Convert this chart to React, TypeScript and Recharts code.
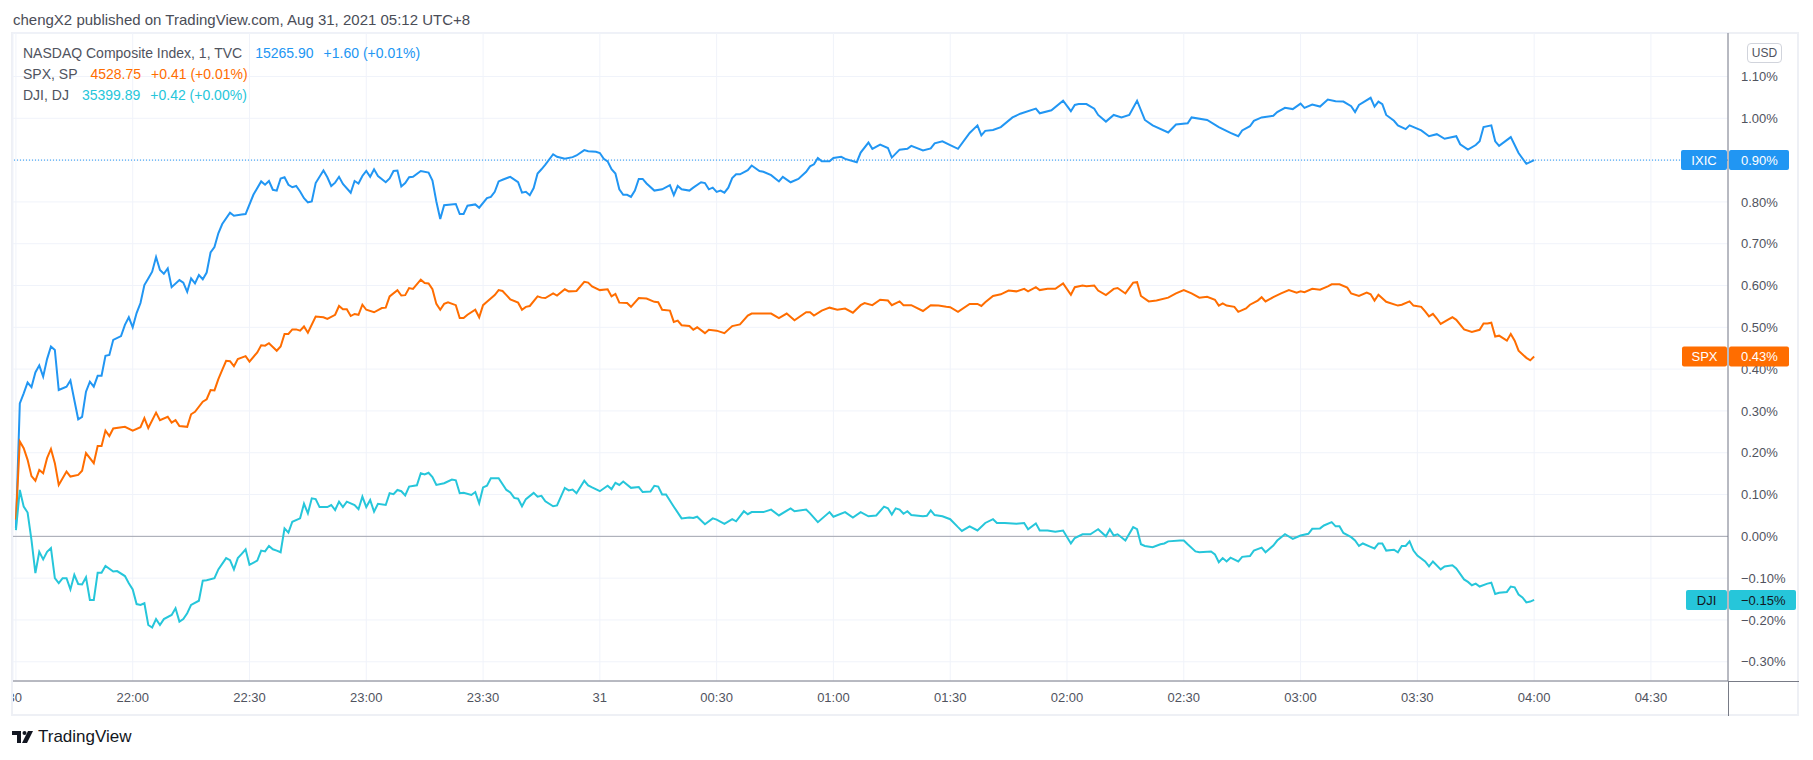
import React from 'react';
import { LineChart, Line, XAxis, YAxis, CartesianGrid, ReferenceLine } from 'recharts';

// minutes after 21:30 (UTC+8) -> % change
const IXIC_PTS: [number, number][] = [
  [0, 0.02], [1, 0.318], [2, 0.342], [3, 0.368], [4, 0.357], [5, 0.392], [6, 0.409], [7, 0.382], [8, 0.424], [9, 0.454],
  [10, 0.446], [11, 0.35], [13, 0.358], [14, 0.373], [15, 0.326], [16, 0.28], [17, 0.286], [18, 0.346], [19, 0.37], [20, 0.358],
  [21, 0.384], [22, 0.384], [23, 0.432], [24, 0.434], [25, 0.47], [27, 0.479], [28, 0.506], [29, 0.524], [30, 0.5], [31, 0.534],
  [32, 0.558], [33, 0.601], [34, 0.617], [35, 0.633], [36, 0.668], [37, 0.637], [38, 0.628], [39, 0.641], [40, 0.596], [42, 0.613],
  [43, 0.607], [44, 0.585], [45, 0.617], [46, 0.605], [47, 0.625], [48, 0.615], [49, 0.631], [50, 0.679], [51, 0.692], [52, 0.725],
  [53, 0.747], [55, 0.774], [56, 0.767], [58, 0.77], [59, 0.771], [61, 0.817], [63, 0.849], [64, 0.841], [65, 0.85], [66, 0.829],
  [67, 0.827], [68, 0.856], [69, 0.859], [70, 0.841], [71, 0.835], [72, 0.838], [73, 0.825], [74, 0.809], [75, 0.799], [76, 0.801],
  [77, 0.845], [79, 0.875], [80, 0.859], [81, 0.838], [82, 0.846], [83, 0.86], [84, 0.843], [86, 0.822], [87, 0.85], [88, 0.844],
  [89, 0.862], [90, 0.874], [91, 0.86], [92, 0.878], [93, 0.862], [95, 0.847], [96, 0.856], [97, 0.874], [98, 0.875], [99, 0.837],
  [100, 0.845], [101, 0.859], [102, 0.86], [104, 0.874], [106, 0.87], [107, 0.851], [108, 0.801], [109, 0.759], [110, 0.792], [113, 0.795],
  [114, 0.771], [115, 0.771], [116, 0.791], [118, 0.794], [119, 0.786], [121, 0.809], [122, 0.812], [123, 0.824], [124, 0.849], [125, 0.853],
  [127, 0.86], [129, 0.847], [130, 0.822], [131, 0.824], [132, 0.816], [133, 0.833], [134, 0.868], [135, 0.878], [136, 0.889], [138, 0.914],
  [139, 0.908], [141, 0.903], [143, 0.907], [144, 0.911], [146, 0.924], [147, 0.921], [149, 0.92], [150, 0.917], [151, 0.903], [152, 0.897],
  [153, 0.878], [154, 0.868], [155, 0.83], [156, 0.817], [157, 0.817], [158, 0.812], [159, 0.827], [160, 0.855], [161, 0.855], [162, 0.844],
  [164, 0.827], [166, 0.83], [168, 0.84], [169, 0.816], [170, 0.838], [171, 0.83], [173, 0.827], [174, 0.834], [176, 0.847], [177, 0.845],
  [178, 0.83], [179, 0.834], [180, 0.824], [181, 0.827], [182, 0.822], [183, 0.834], [184, 0.857], [185, 0.866], [186, 0.866], [188, 0.876],
  [189, 0.887], [191, 0.874], [192, 0.872], [194, 0.864], [196, 0.849], [197, 0.86], [199, 0.847], [201, 0.855], [203, 0.872], [204, 0.885],
  [205, 0.89], [206, 0.905], [207, 0.897], [209, 0.897], [210, 0.905], [212, 0.908], [213, 0.903], [216, 0.895], [217, 0.918], [219, 0.942],
  [220, 0.927], [222, 0.937], [224, 0.929], [225, 0.906], [227, 0.925], [229, 0.927], [230, 0.934], [233, 0.923], [235, 0.928], [236, 0.94],
  [238, 0.945], [240, 0.936], [242, 0.927], [245, 0.965], [247, 0.983], [248, 0.959], [249, 0.97], [251, 0.972], [253, 0.979], [256, 1.002],
  [258, 1.011], [262, 1.023], [263, 1.012], [266, 1.019], [269, 1.042], [271, 1.017], [272, 1.032], [273, 1.034], [275, 1.034], [277, 1.023],
  [278, 1.008], [280, 0.992], [282, 1.008], [284, 1.002], [286, 1.008], [288, 1.042], [290, 0.996], [292, 0.983], [296, 0.966], [298, 0.985],
  [301, 0.988], [302, 1.002], [306, 0.996], [309, 0.979], [312, 0.965], [314, 0.957], [315, 0.971], [317, 0.981], [318, 0.994], [320, 1.002],
  [323, 1.006], [324, 1.015], [326, 1.025], [328, 1.022], [330, 1.035], [331, 1.025], [333, 1.033], [335, 1.028], [337, 1.045], [339, 1.041],
  [341, 1.04], [343, 1.029], [344, 1.015], [345, 1.032], [348, 1.049], [349, 1.028], [350, 1.04], [351, 1.034], [352, 1.008], [354, 0.994],
  [355, 0.983], [357, 0.974], [358, 0.983], [361, 0.971], [363, 0.957], [365, 0.962], [367, 0.951], [370, 0.957], [371, 0.938], [373, 0.925],
  [375, 0.936], [376, 0.945], [377, 0.979], [379, 0.983], [380, 0.945], [381, 0.934], [384, 0.955], [385, 0.936], [386, 0.917], [388, 0.891],
  [390, 0.9],
];

const SPX_PTS: [number, number][] = [
  [0, 0.04], [1, 0.227], [2, 0.211], [3, 0.183], [4, 0.144], [5, 0.133], [6, 0.159], [7, 0.151], [8, 0.187], [9, 0.209],
  [10, 0.175], [11, 0.123], [12, 0.139], [13, 0.155], [14, 0.143], [16, 0.147], [17, 0.157], [18, 0.199], [20, 0.175], [21, 0.216],
  [22, 0.216], [23, 0.253], [24, 0.24], [25, 0.258], [28, 0.262], [30, 0.253], [32, 0.261], [33, 0.283], [34, 0.259], [36, 0.296],
  [37, 0.278], [39, 0.286], [40, 0.272], [41, 0.278], [42, 0.264], [44, 0.262], [45, 0.292], [46, 0.298], [48, 0.322], [49, 0.328],
  [50, 0.35], [51, 0.349], [52, 0.376], [53, 0.398], [54, 0.42], [55, 0.419], [56, 0.407], [57, 0.424], [59, 0.431], [60, 0.418],
  [62, 0.44], [63, 0.457], [64, 0.456], [65, 0.462], [67, 0.444], [68, 0.454], [69, 0.484], [70, 0.484], [71, 0.495], [72, 0.495],
  [73, 0.492], [74, 0.502], [75, 0.487], [77, 0.526], [79, 0.524], [80, 0.52], [82, 0.53], [83, 0.551], [84, 0.543], [85, 0.543],
  [86, 0.527], [87, 0.532], [88, 0.53], [89, 0.554], [90, 0.542], [92, 0.536], [94, 0.546], [95, 0.547], [96, 0.574], [98, 0.589],
  [99, 0.576], [100, 0.577], [101, 0.594], [102, 0.592], [104, 0.614], [105, 0.606], [106, 0.605], [107, 0.591], [108, 0.556], [109, 0.542],
  [110, 0.556], [111, 0.56], [113, 0.553], [114, 0.522], [115, 0.522], [116, 0.53], [118, 0.542], [119, 0.524], [120, 0.553], [121, 0.561],
  [123, 0.577], [124, 0.589], [125, 0.587], [126, 0.577], [127, 0.567], [129, 0.559], [130, 0.542], [131, 0.549], [132, 0.551], [134, 0.574],
  [135, 0.571], [136, 0.57], [138, 0.581], [139, 0.576], [141, 0.591], [142, 0.586], [144, 0.587], [146, 0.609], [147, 0.607], [148, 0.598],
  [150, 0.589], [152, 0.591], [153, 0.574], [154, 0.58], [155, 0.559], [157, 0.558], [158, 0.549], [160, 0.57], [162, 0.569], [164, 0.561],
  [165, 0.56], [166, 0.542], [168, 0.54], [169, 0.513], [170, 0.516], [171, 0.505], [173, 0.503], [174, 0.494], [175, 0.5], [177, 0.486],
  [178, 0.494], [180, 0.492], [182, 0.486], [184, 0.503], [186, 0.507], [188, 0.528], [189, 0.533], [192, 0.533], [194, 0.533], [196, 0.522],
  [198, 0.533], [200, 0.517], [203, 0.536], [204, 0.536], [205, 0.528], [207, 0.54], [209, 0.547], [211, 0.542], [213, 0.545], [215, 0.535],
  [217, 0.553], [218, 0.558], [220, 0.553], [222, 0.566], [224, 0.564], [225, 0.553], [227, 0.562], [228, 0.553], [230, 0.553], [233, 0.539],
  [235, 0.553], [237, 0.552], [239, 0.549], [240, 0.548], [242, 0.537], [245, 0.556], [247, 0.556], [248, 0.551], [249, 0.56], [251, 0.575],
  [253, 0.579], [255, 0.588], [257, 0.586], [259, 0.592], [260, 0.586], [262, 0.596], [263, 0.589], [265, 0.592], [267, 0.592], [269, 0.605],
  [271, 0.578], [272, 0.596], [274, 0.6], [275, 0.598], [277, 0.6], [278, 0.588], [280, 0.577], [282, 0.592], [283, 0.594], [285, 0.581],
  [287, 0.607], [288, 0.608], [289, 0.575], [291, 0.562], [293, 0.564], [296, 0.571], [298, 0.581], [300, 0.589], [302, 0.581], [304, 0.571],
  [306, 0.573], [308, 0.566], [309, 0.552], [310, 0.557], [311, 0.552], [313, 0.549], [314, 0.537], [316, 0.545], [317, 0.554], [319, 0.564],
  [320, 0.572], [321, 0.562], [323, 0.572], [325, 0.581], [327, 0.589], [329, 0.583], [330, 0.586], [331, 0.584], [333, 0.592], [335, 0.59],
  [337, 0.598], [338, 0.603], [340, 0.603], [342, 0.595], [343, 0.581], [345, 0.575], [347, 0.583], [348, 0.579], [349, 0.564], [350, 0.578],
  [352, 0.561], [355, 0.552], [356, 0.554], [358, 0.562], [359, 0.552], [361, 0.549], [362, 0.538], [363, 0.526], [364, 0.532], [365, 0.521],
  [366, 0.508], [368, 0.519], [369, 0.524], [370, 0.518], [372, 0.495], [374, 0.489], [376, 0.494], [377, 0.509], [378, 0.509], [379, 0.511],
  [380, 0.478], [381, 0.48], [383, 0.468], [384, 0.484], [385, 0.468], [386, 0.444], [388, 0.427], [389, 0.421], [390, 0.43],
];

const DJI_PTS: [number, number][] = [
  [0, 0.015], [1, 0.111], [2, 0.071], [3, 0.057], [4, -0.009], [5, -0.088], [6, -0.037], [7, -0.055], [8, -0.037], [9, -0.028],
  [10, -0.1], [11, -0.112], [12, -0.1], [13, -0.1], [14, -0.127], [15, -0.092], [16, -0.114], [17, -0.115], [18, -0.098], [19, -0.152],
  [20, -0.152], [21, -0.087], [22, -0.087], [23, -0.071], [25, -0.084], [26, -0.083], [28, -0.095], [29, -0.112], [30, -0.127], [31, -0.162],
  [32, -0.164], [33, -0.16], [34, -0.212], [35, -0.218], [36, -0.198], [37, -0.212], [38, -0.198], [40, -0.188], [41, -0.172], [42, -0.204],
  [43, -0.198], [44, -0.184], [45, -0.164], [47, -0.154], [48, -0.106], [49, -0.105], [51, -0.1], [52, -0.079], [54, -0.052], [55, -0.057],
  [56, -0.079], [57, -0.052], [58, -0.042], [59, -0.031], [60, -0.068], [62, -0.058], [63, -0.034], [64, -0.036], [65, -0.023], [66, -0.031],
  [67, -0.034], [68, -0.038], [69, 0.019], [70, 0.009], [71, 0.035], [73, 0.043], [74, 0.078], [75, 0.055], [76, 0.091], [77, 0.089],
  [78, 0.07], [80, 0.07], [81, 0.075], [82, 0.063], [83, 0.083], [84, 0.07], [85, 0.083], [87, 0.075], [88, 0.065], [89, 0.095],
  [90, 0.07], [91, 0.087], [92, 0.059], [93, 0.078], [95, 0.075], [96, 0.103], [97, 0.101], [98, 0.111], [99, 0.108], [100, 0.098],
  [101, 0.119], [103, 0.122], [104, 0.151], [105, 0.148], [106, 0.152], [107, 0.142], [108, 0.123], [110, 0.127], [112, 0.136], [113, 0.134],
  [114, 0.103], [115, 0.104], [117, 0.099], [118, 0.106], [119, 0.079], [120, 0.117], [121, 0.121], [122, 0.139], [124, 0.139], [126, 0.111],
  [127, 0.105], [128, 0.092], [129, 0.09], [130, 0.072], [131, 0.089], [133, 0.104], [134, 0.095], [135, 0.097], [136, 0.084], [138, 0.072],
  [139, 0.074], [141, 0.116], [142, 0.11], [143, 0.112], [144, 0.103], [146, 0.133], [147, 0.122], [148, 0.117], [150, 0.108], [152, 0.121],
  [153, 0.113], [154, 0.128], [155, 0.123], [156, 0.131], [158, 0.116], [160, 0.118], [161, 0.106], [163, 0.107], [164, 0.121], [165, 0.119],
  [166, 0.1], [167, 0.1], [169, 0.071], [171, 0.043], [173, 0.045], [174, 0.044], [175, 0.047], [177, 0.029], [179, 0.043], [180, 0.04],
  [182, 0.03], [184, 0.041], [185, 0.036], [187, 0.06], [188, 0.053], [189, 0.058], [192, 0.058], [194, 0.064], [196, 0.05], [199, 0.067],
  [200, 0.06], [203, 0.064], [204, 0.055], [206, 0.034], [209, 0.058], [210, 0.047], [213, 0.058], [215, 0.045], [217, 0.058], [219, 0.048],
  [221, 0.05], [223, 0.071], [224, 0.067], [225, 0.052], [226, 0.067], [227, 0.064], [228, 0.054], [229, 0.06], [230, 0.051], [233, 0.048],
  [234, 0.049], [235, 0.062], [236, 0.051], [238, 0.048], [240, 0.041], [242, 0.022], [243, 0.013], [245, 0.024], [247, 0.014], [249, 0.032],
  [251, 0.041], [252, 0.032], [254, 0.032], [257, 0.03], [259, 0.032], [260, 0.017], [262, 0.031], [263, 0.014], [265, 0.014], [267, 0.011],
  [269, 0.014], [271, -0.017], [272, -0.004], [274, 0.005], [276, 0.005], [277, 0.011], [278, 0.017], [280, 0.0], [281, 0.017], [282, 0.002],
  [283, 0.005], [285, -0.01], [287, 0.022], [288, 0.017], [289, -0.019], [290, -0.023], [292, -0.026], [294, -0.019], [295, -0.017], [296, -0.012],
  [299, -0.01], [300, -0.01], [301, -0.019], [303, -0.036], [304, -0.038], [307, -0.036], [308, -0.043], [309, -0.062], [310, -0.052], [311, -0.06],
  [312, -0.051], [314, -0.06], [315, -0.049], [317, -0.047], [318, -0.034], [320, -0.027], [321, -0.038], [323, -0.022], [324, -0.01], [326, 0.005],
  [328, -0.006], [330, 0.002], [332, 0.006], [333, 0.018], [335, 0.019], [336, 0.026], [338, 0.034], [339, 0.024], [340, 0.024], [341, 0.008],
  [343, -0.002], [344, -0.01], [345, -0.023], [346, -0.017], [348, -0.025], [349, -0.029], [350, -0.017], [351, -0.017], [352, -0.034], [354, -0.032],
  [355, -0.038], [356, -0.023], [357, -0.023], [358, -0.012], [359, -0.034], [360, -0.046], [362, -0.06], [363, -0.072], [364, -0.06], [366, -0.079],
  [367, -0.072], [369, -0.069], [370, -0.077], [372, -0.103], [373, -0.109], [374, -0.117], [375, -0.113], [376, -0.12], [378, -0.113], [379, -0.111],
  [380, -0.138], [381, -0.135], [383, -0.133], [384, -0.12], [385, -0.122], [386, -0.139], [387, -0.146], [388, -0.158], [389, -0.156], [390, -0.152],
];

const TIME_TICKS = [0, 30, 60, 90, 120, 150, 180, 210, 240, 270, 300, 330, 360, 390, 420];
const TIME_LABELS = ['21:30', '22:00', '22:30', '23:00', '23:30', '31', '00:30', '01:00', '01:30', '02:00', '02:30', '03:00', '03:30', '04:00', '04:30'];
const PCT_TICKS = [-0.3, -0.2, -0.1, 0, 0.1, 0.2, 0.3, 0.4, 0.5, 0.6, 0.7, 0.8, 0.9, 1.0, 1.1];

const LEGEND_NAMES = ['NASDAQ Composite Index, 1, TVC', 'SPX, SP', 'DJI, DJ'];
const LEGEND_QUOTES = ['15265.90', '4528.75', '35399.89'];
const LEGEND_CHANGES = ['+1.60 (+0.01%)', '+0.41 (+0.01%)', '+0.42 (+0.00%)'];
const TAGS = ['IXIC', 'SPX', 'DJI'];

const COLORS = ['#2196f3', '#ff6d00', '#26c6da'];
const TAG_TEXT = ['#ffffff', '#ffffff', '#131722'];
const TAG_W = [46, 45, 41];

const FONT = '"Liberation Sans", Arial, Helvetica, sans-serif';
const GREY = '#50535e';
const GRID = '#f0f3fa';
const AXIS = '#787b86';

const X_DOMAIN: [number, number] = [-0.75, 439.8];
const Y_DOMAIN: [number, number] = [-0.346, 1.204];
const MARGIN = { top: 33, right: 14, bottom: 44, left: 13 };

const fmtPct = (v: number) => {
  const s = Math.abs(v).toFixed(2) + '%';
  return v < -0.0001 ? '\u2212' + s : s;
};

const toRows = (pts: [number, number][]) => pts.map(([t, v]) => ({ t, v }));
const SERIES = [IXIC_PTS, SPX_PTS, DJI_PTS].map(toRows);

function TimeTick(props: any) {
  const { x, y, payload, index } = props;
  const label = TIME_LABELS[TIME_TICKS.indexOf(payload.value)] ?? '';
  const first = index === 0;
  return (
    <g>
      <defs>
        <clipPath id={`tclip${index}`}>
          <rect x={13} y={y - 5} width={1715} height={30} />
        </clipPath>
      </defs>
      <text
        x={first ? x + 6 : x}
        y={y}
        dy="0.71em"
        textAnchor={first ? 'end' : 'middle'}
        fill={GREY}
        fontSize={13}
        fontFamily={FONT}
        clipPath={`url(#tclip${index})`}
      >
        {label}
      </text>
    </g>
  );
}

function PctTick(props: any) {
  const { x, y, payload } = props;
  return (
    <text x={x} y={y} dy="0.36em" textAnchor="start" fill={GREY} fontSize={13} fontFamily={FONT}>
      {fmtPct(payload.value)}
    </text>
  );
}

function makeTag(i: number, value: number) {
  return (props: any) => {
    const vb = props.viewBox || {};
    const right = vb.x + vb.width;
    const y = vb.y;
    const txt = fmtPct(value);
    const vw = txt.startsWith('\u2212') ? 67 : 60;
    return (
      <g>
        <rect x={right - TAG_W[i] - 1} y={y - 10} width={TAG_W[i]} height={20} rx={2} fill={COLORS[i]} />
        <text x={right - 1 - TAG_W[i] / 2} y={y} dy="0.36em" textAnchor="middle" fill={TAG_TEXT[i]} fontSize={13} fontFamily={FONT}>
          {TAGS[i]}
        </text>
        <rect x={right + 1} y={y - 10} width={vw} height={20} rx={2} fill={COLORS[i]} />
        <text x={right + 13} y={y} dy="0.36em" textAnchor="start" fill={TAG_TEXT[i]} fontSize={13} fontFamily={FONT}>
          {txt}
        </text>
      </g>
    );
  };
}

export default function App() {
  const last = SERIES.map((s) => s[s.length - 1].v);
  return (
    <div style={{ position: 'absolute', left: 0, top: 0, width: 1813, height: 760, background: '#fff', fontFamily: FONT, overflow: 'hidden' }}>
      <div style={{ position: 'absolute', left: 13, top: 11, fontSize: 15, color: '#4a4d57', whiteSpace: 'nowrap' }}>
        chengX2 published on TradingView.com, Aug 31, 2021 05:12 UTC+8
      </div>

      {/* widget frame */}
      <div style={{ position: 'absolute', left: 11, top: 32, width: 1788, height: 684, border: '2px solid #eef0f5', boxSizing: 'border-box' }} />

      <div style={{ position: 'absolute', left: 0, top: 0 }}>
        <LineChart width={1813} height={760} margin={MARGIN}>
          <CartesianGrid stroke={GRID} strokeWidth={1} />
          <XAxis
            dataKey="t"
            type="number"
            domain={X_DOMAIN}
            allowDataOverflow
            ticks={TIME_TICKS}
            interval={0}
            height={35}
            tickSize={0}
            tickMargin={12}
            axisLine={{ stroke: AXIS }}
            tickLine={false}
            tick={<TimeTick />}
          />
          <YAxis
            orientation="right"
            type="number"
            domain={Y_DOMAIN}
            allowDataOverflow
            ticks={PCT_TICKS}
            interval={0}
            width={71}
            tickSize={0}
            tickMargin={13}
            axisLine={{ stroke: AXIS }}
            tickLine={false}
            tick={<PctTick />}
          />
          <ReferenceLine y={0} stroke="#a3a6af" strokeWidth={1} />
          <ReferenceLine y={last[0]} stroke={COLORS[0]} strokeWidth={1} strokeDasharray="1 2" />
          {SERIES.map((rows, i) => (
            <Line
              key={TAGS[i]}
              data={rows}
              dataKey="v"
              name={TAGS[i]}
              type="linear"
              stroke={COLORS[i]}
              strokeWidth={2}
              dot={false}
              activeDot={false}
              isAnimationActive={false}
            />
          ))}
        </LineChart>
      </div>

      {/* last-value tags sit above the price scale, same scales as the chart below */}
      <div style={{ position: 'absolute', left: 0, top: 0, pointerEvents: 'none' }}>
        <LineChart width={1813} height={760} margin={MARGIN}>
          <XAxis dataKey="t" type="number" domain={X_DOMAIN} allowDataOverflow height={35} tick={false} axisLine={false} tickLine={false} />
          <YAxis orientation="right" type="number" domain={Y_DOMAIN} allowDataOverflow width={71} tick={false} axisLine={false} tickLine={false} />
          {last.map((v, i) => (
            <ReferenceLine key={TAGS[i]} y={v} stroke="none" strokeOpacity={0} label={makeTag(i, v)} />
          ))}
        </LineChart>
      </div>

      {/* axis line continuations into the scale corner */}
      <div style={{ position: 'absolute', left: 1728, top: 681, width: 71, height: 1, background: AXIS }} />
      <div style={{ position: 'absolute', left: 1728, top: 681, width: 1, height: 35, background: AXIS }} />

      <div
        style={{
          position: 'absolute', left: 1747, top: 43, width: 35, height: 20, boxSizing: 'border-box',
          border: '1px solid #d1d4dc', borderRadius: 4, fontSize: 12, color: GREY, textAlign: 'center', lineHeight: '18px',
        }}
      >
        USD
      </div>

      <div style={{ position: 'absolute', left: 23, top: 43, fontSize: 14, lineHeight: '21px', whiteSpace: 'nowrap' }}>
        {LEGEND_NAMES.map((n, i) => (
          <div key={n}>
            <span style={{ color: GREY }}>{n}</span>
            <span style={{ color: COLORS[i], marginLeft: 13 }}>{LEGEND_QUOTES[i]}</span>
            <span style={{ color: COLORS[i], marginLeft: 10 }}>{LEGEND_CHANGES[i]}</span>
          </div>
        ))}
      </div>

      <div style={{ position: 'absolute', left: 12, top: 727, display: 'flex', alignItems: 'center', gap: 4 }}>
        <svg width={22} height={13} viewBox="0 0 22 13">
          <path d="M0 0H9V12H5V4H0Z" fill="#131722" />
          <circle cx={12.5} cy={2} r={2} fill="#131722" />
          <path d="M16 0H21L15 12H10Z" fill="#131722" />
        </svg>
        <span style={{ fontSize: 17, color: '#131722' }}>TradingView</span>
      </div>
    </div>
  );
}
